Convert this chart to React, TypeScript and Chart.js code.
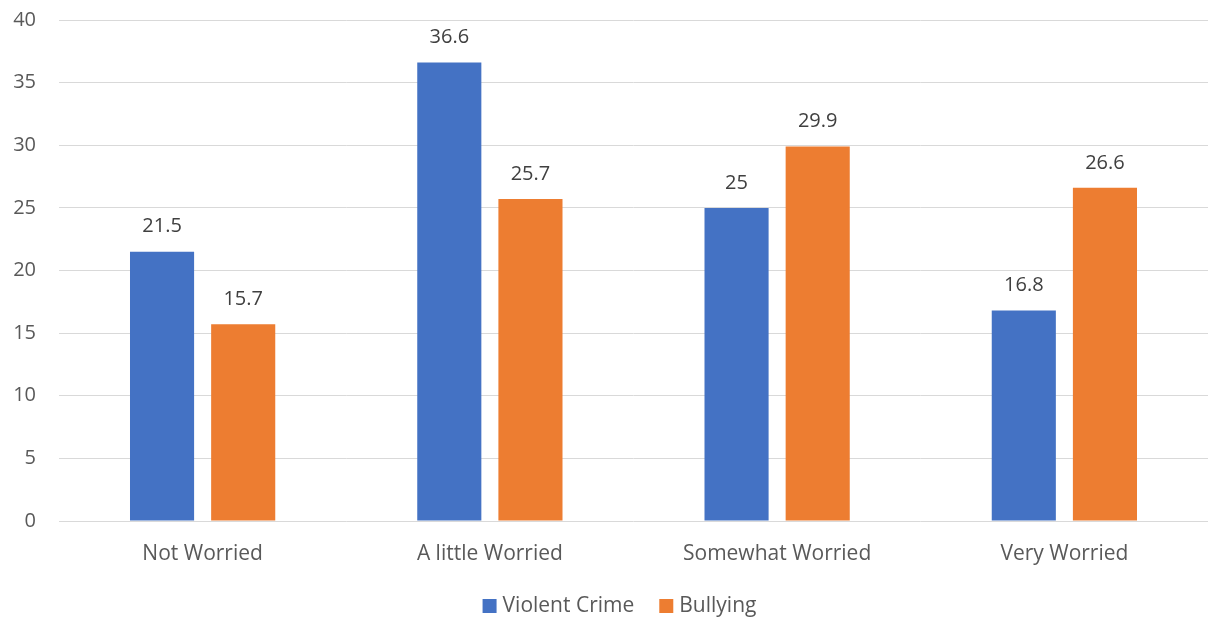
import React, { useEffect, useRef } from "react";
import { Chart, registerables } from "chart.js";

Chart.register(...registerables);

const categories = ["Not Worried", "A little Worried", "Somewhat Worried", "Very Worried"];
const violentCrime = [21.5, 36.6, 25, 16.8];
const bullying = [15.7, 25.7, 29.9, 26.6];
const yTicks = [0, 5, 10, 15, 20, 25, 30, 35, 40];
const seriesNames = ["Violent Crime", "Bullying"];
const seriesColors = ["#4472C4", "#ED7D31"];

const FONT = "'Open Sans', 'Noto Sans', sans-serif";
const FS = 20;
const FS_CAT = 21;

const valueLabels = {
  id: "valueLabels",
  afterDatasetsDraw(chart: any) {
    const ctx = chart.ctx;
    ctx.save();
    ctx.font = `${FS}px ${FONT}`;
    ctx.fillStyle = "#404040";
    ctx.textAlign = "center";
    ctx.textBaseline = "middle";
    chart.data.datasets.forEach((ds: any, i: number) => {
      const meta = chart.getDatasetMeta(i);
      meta.data.forEach((bar: any, j: number) => {
        ctx.fillText(String(ds.data[j]), bar.x, bar.y - 25);
      });
    });
    ctx.restore();
  },
};

const bottomLegend = {
  id: "bottomLegend",
  afterDraw(chart: any) {
    const ctx = chart.ctx;
    ctx.save();
    ctx.font = `${FS_CAT}px ${FONT}`;
    ctx.textBaseline = "middle";
    const box = 14, gapText = 6, gapItem = 25;
    const widths = seriesNames.map((n) => ctx.measureText(n).width);
    let total = 0;
    widths.forEach((w, i) => { total += box + gapText + w + (i < widths.length - 1 ? gapItem : 0); });
    const center = (chart.width + chart.chartArea.left) / 2 - 14;
    let x = center - total / 2;
    const cy = chart.height - 16;
    seriesNames.forEach((n, i) => {
      ctx.fillStyle = seriesColors[i];
      ctx.fillRect(x, cy - 7, box, box);
      ctx.fillStyle = "#595959";
      ctx.textAlign = "left";
      ctx.fillText(n, x + box + gapText, cy);
      x += box + gapText + widths[i] + gapItem;
    });
    ctx.restore();
  },
};

export default function App() {
  const ref = useRef<HTMLCanvasElement>(null);
  useEffect(() => {
    if (!ref.current) return;
    const chart = new Chart(ref.current, {
      type: "bar",
      data: {
        labels: categories,
        datasets: [
          { label: seriesNames[0], data: violentCrime, backgroundColor: seriesColors[0] },
          { label: seriesNames[1], data: bullying, backgroundColor: seriesColors[1] },
        ],
      },
      options: {
        animation: false,
        responsive: false,
        maintainAspectRatio: false,
        layout: { padding: { top: 20, right: 0, bottom: 0, left: 0 } },
        datasets: {
          bar: { categoryPercentage: 0.565, barPercentage: 0.79 },
        },
        plugins: {
          tooltip: { enabled: false },
          legend: { display: false },
        },
        scales: {
          x: {
            afterFit: (s: any) => { s.height = 101; },
            grid: { display: false },
            border: { display: false },
            ticks: { color: "#595959", font: { family: FONT, size: FS_CAT }, padding: 12 },
          },
          y: {
            min: 0,
            max: 40,
            afterFit: (s: any) => { s.width = 59; s.paddingTop = 0; s.paddingBottom = 0; },
            afterBuildTicks: (s: any) => { s.ticks = yTicks.map((v) => ({ value: v })); },
            grid: { color: "#d9d9d9", lineWidth: 1, drawTicks: false },
            border: { display: false },
            ticks: { color: "#595959", font: { family: FONT, size: FS }, padding: 23 },
          },
        },
      },
      plugins: [valueLabels, bottomLegend],
    });
    return () => chart.destroy();
  }, []);
  return (
    <div style={{ position: "fixed", left: 0, top: 0, width: 1208, height: 622, background: "#fff" }}>
      <canvas ref={ref} width={1208} height={622} style={{ width: 1208, height: 622 }} />
    </div>
  );
}
